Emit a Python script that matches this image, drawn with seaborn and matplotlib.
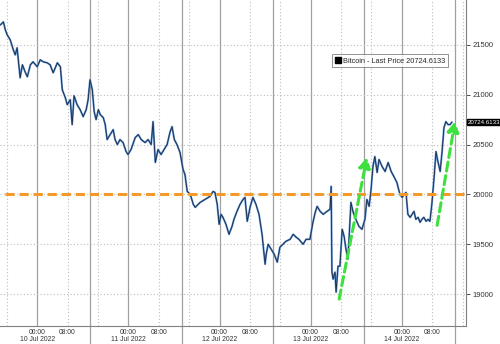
import numpy as np
import pandas as pd
import matplotlib
matplotlib.use("Agg")
import matplotlib.pyplot as plt
import matplotlib.dates as mdates
import seaborn as sns

# ---- data ----
base_time = "2022-07-10 00:00"
hours = [-9.7, -8.9, -8.4, -7.9, -7.1, -6.3, -5.8, -5.3, -4.5, -3.9, -3.2, -2.6, -1.8, -1.1,
         0.0, 0.8, 1.6, 2.6, 3.4, 4.2, 5.3, 6.1, 6.6, 7.4, 7.9, 8.7, 9.2, 9.7, 10.5, 11.3,
         12.1, 12.9, 13.4, 13.9, 14.5, 15.0, 15.5, 16.1, 16.6, 17.4, 17.9, 18.4, 19.2, 20.0,
         20.5, 21.1, 21.8, 22.6, 23.4, 23.9, 24.7, 25.8, 26.6, 27.4, 28.4, 29.2, 30.0, 30.5,
         31.1, 31.8, 32.6, 33.4, 34.2, 35.0, 35.5, 36.1, 36.8, 37.6, 38.4, 38.9, 39.5, 40.3,
         41.1, 41.6, 42.9, 44.2, 45.5, 46.3, 46.8, 47.4, 47.9, 48.4, 48.9, 49.7, 50.5, 51.3,
         51.8, 52.6, 53.4, 54.2, 54.7, 55.3, 56.1, 56.8, 57.6, 58.4, 59.2, 60.0, 60.3, 60.8,
         61.6, 62.4, 63.2, 63.9, 64.7, 65.5, 66.6, 67.4, 68.2, 68.9, 70.0, 70.8, 71.8, 72.6,
         73.2, 73.7, 74.5, 75.3, 76.3, 77.1, 77.4, 77.6, 77.9, 78.4, 78.7, 79.2, 79.7, 80.3,
         80.8, 81.3, 81.8, 82.1, 82.6, 83.2, 83.9, 84.7, 85.5, 86.3, 86.8, 87.4, 87.9, 88.4,
         88.9, 89.5, 90.0, 90.8, 91.6, 92.4, 93.2, 93.9, 94.7, 95.5, 96.1, 96.6, 97.1, 97.6,
         98.2, 98.7, 99.2, 99.7, 100.3, 100.8, 101.3, 101.8, 102.4, 102.9, 103.4, 103.9,
         104.5, 105.0, 105.5, 106.1, 106.6, 107.1, 107.6, 108.2, 108.7, 109.2]
prices = [21700, 21730, 21650, 21600, 21550, 21450, 21400, 21470, 21170, 21300, 21230, 21180, 21300, 21330,
          21280, 21350, 21330, 21320, 21300, 21220, 21320, 21280, 21050, 20970, 20900, 20950, 20700, 20990, 20900, 20850,
          20780, 20850, 20950, 21150, 21050, 20830, 20750, 20850, 20800, 20770, 20700, 20550, 20600, 20650,
          20550, 20500, 20550, 20520, 20430, 20400, 20450, 20570, 20600, 20550, 20520, 20550, 20500, 20730,
          20320, 20450, 20400, 20450, 20500, 20630, 20680, 20550, 20500, 20420, 20250, 20200, 20030, 20000,
          19900, 19870, 19920, 19950, 19980, 20030, 20020, 19900, 19700, 19800, 19770, 19700, 19600, 19680,
          19750, 19830, 19900, 19950, 19970, 19730, 19880, 19970, 19900, 19800, 19600, 19300, 19400, 19500,
          19450, 19400, 19320, 19470, 19500, 19530, 19550, 19600, 19570, 19550, 19500, 19550, 19550, 19720,
          19820, 19880, 19830, 19800, 19830, 19850, 20080, 19220, 19150, 19220, 19020, 19280, 19280, 19650,
          19580, 19450, 19350, 19550, 19920, 19820, 19750, 19680, 19650, 19750, 19950, 19880, 20050, 20280,
          20380, 20220, 20350, 20280, 20230, 20320, 20230, 20180, 20120, 20000, 19970, 20000, 20020, 19800,
          19770, 19800, 19830, 19750, 19770, 19720, 19750, 19770, 19730, 19750, 19730, 19900,
          20170, 20430, 20330, 20230, 20430, 20670, 20730, 20700, 20700, 20725]
last_price = 20724.6133
series_label = "Bitcoin - Last Price"
day_labels = ["10 Jul 2022", "11 Jul 2022", "12 Jul 2022", "13 Jul 2022", "14 Jul 2022"]
y_ticks = [19000, 19500, 20000, 20500, 21000, 21500]
support_level = 20000
support_start_h = -8.4
arrow1_h = [79.5, 86.8]
arrow1_p = [18950, 20370]
arrow2_h = [105.3, 110.0]
arrow2_p = [19690, 20730]

# ---- build frame ----
t0 = pd.Timestamp(base_time)
df = pd.DataFrame({"time": t0 + pd.to_timedelta(hours, unit="h"), "price": prices})

sns.set_style("white")
plt.rcParams["font.family"] = ["Liberation Sans", "DejaVu Sans"]

fig = plt.figure(figsize=(5.0, 3.44), dpi=100)
ax = fig.add_axes([0.0, 18 / 344, 466 / 500, 326 / 344])

def H(h):
    return mdates.date2num(t0 + pd.Timedelta(hours=h))

xmin, xmax = H(-9.8), H(112.9)
ax.set_xlim(xmin, xmax)
ax.set_ylim(18680, 21950)

# grid lines
for d in range(-1, 5):
    for hh, style in [(0, "solid"), (14, "solid"), (8, "dotted"), (16, "dotted")]:
        xv = H(24 * d + hh)
        if xv < xmin or xv > xmax:
            continue
        if style == "solid":
            ext = hh == 14
            ax.axvline(xv, ymin=-0.06 if ext else 0, ymax=1, color="#a0a0a0", lw=0.9,
                       zorder=0, clip_on=not ext)
        else:
            ax.axvline(xv, color="#bdbdbd", lw=0.8, ls=(0, (1, 2)), zorder=0)
for yv in y_ticks:
    ax.axhline(yv, color="#bdbdbd", lw=0.8, ls=(0, (1, 2)), zorder=0)

# price line
sns.lineplot(data=df, x="time", y="price", ax=ax, color="#5a8fd0", lw=1.4, zorder=3)
sns.lineplot(data=df, x="time", y="price", ax=ax, color="#1b2a44", lw=0.6, zorder=4)

# support line
ax.plot([H(support_start_h), xmax], [support_level, support_level], color="#f39a2b",
        lw=2.2, dashes=(3, 1.6), zorder=5, solid_capstyle="butt")

# green arrows
for ah, ap in [(arrow1_h, arrow1_p), (arrow2_h, arrow2_p)]:
    xs = [H(ah[0]), H(ah[1])]
    ax.annotate("", xy=(xs[1], ap[1]), xytext=(xs[0], ap[0]),
                arrowprops=dict(arrowstyle="-|>,head_length=0.6,head_width=0.35",
                                color="#3ee03e", lw=2.2, ls=(0, (3, 1.5)),
                                shrinkA=0, shrinkB=0),
                zorder=6)

# axes styling
ax.yaxis.tick_right()
ax.set_yticks(y_ticks)
ax.set_yticklabels([str(v) for v in y_ticks])
ax.tick_params(axis="y", length=3, width=0.6, labelsize=5.5, colors="#333333", pad=2)
major = []
labels = []
for i, dl in enumerate(day_labels):
    major.append(H(24 * i)); labels.append("00:00\n" + dl)
    major.append(H(24 * i + 8)); labels.append("08:00")
ax.set_xticks(major)
ax.set_xticklabels(labels, fontsize=4.9, color="#333333", linespacing=0.88)
ax.set_xticks([H(h) for h in range(-8, 112, 4)], minor=True)
ax.tick_params(axis="x", which="major", length=2, width=0.6, pad=0.3)
ax.tick_params(axis="x", which="minor", length=1.5, width=0.5)
ax.set_xlabel(""); ax.set_ylabel("")
for s in ["left", "top"]:
    ax.spines[s].set_visible(False)
for s in ["right", "bottom"]:
    ax.spines[s].set_color("#808080"); ax.spines[s].set_linewidth(0.8)

# legend box
from matplotlib.lines import Line2D
h = Line2D([], [], marker="s", color="black", ls="none", markersize=4)
leg = ax.legend([h], [f"{series_label} {last_price:.4f}"], loc="upper left",
                bbox_to_anchor=(0.712, 0.833), fontsize=5.3, frameon=True, fancybox=False,
                handlelength=0.8, handletextpad=0.3, borderpad=0.4, borderaxespad=0)
leg.get_frame().set_edgecolor("#606060"); leg.get_frame().set_linewidth(0.6)

# last price tag
ax.annotate(f"{last_price:.4f}", xy=(1.0, last_price), xycoords=("axes fraction", "data"),
            xytext=(1.0, 0), textcoords="offset points", ha="left", va="center",
            fontsize=4.4, color="white", family="Liberation Sans",
            bbox=dict(boxstyle="square,pad=0.12", fc="black", ec="black"), annotation_clip=False)

fig.savefig("out.png", dpi=100)
